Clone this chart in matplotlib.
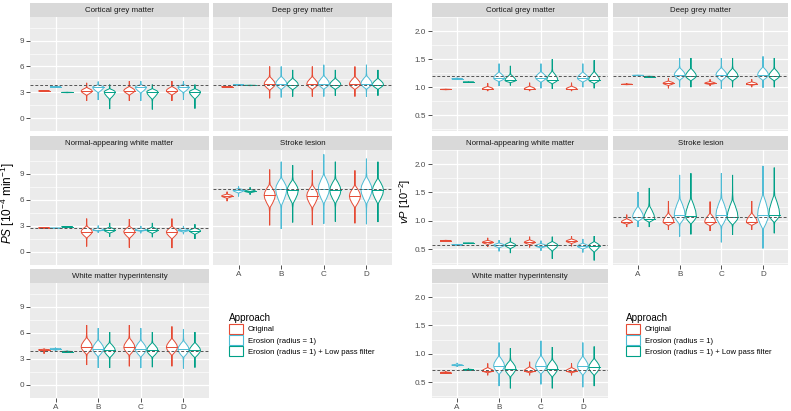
import matplotlib
matplotlib.use('Agg')
import matplotlib.pyplot as plt
import numpy as np
from matplotlib.patches import Patch

plt.rcParams['font.family'] = ['Liberation Sans', 'DejaVu Sans']
plt.rcParams['mathtext.fontset'] = 'custom'
plt.rcParams['mathtext.rm'] = 'Liberation Sans'
plt.rcParams['mathtext.it'] = 'Liberation Sans:italic'

groups = ['A', 'B', 'C', 'D']
approaches = ['Original', 'Erosion (radius = 1)', 'Erosion (radius = 1) + Low pass filter']
colors = ['#E64B35', '#4DBBD5', '#00A087']
facets = ['Cortical grey matter', 'Deep grey matter', 'Normal-appearing white matter',
          'Stroke lesion', 'White matter hyperintensity']

# each violin is (min, median, max); rows = approaches, columns = groups A-D
ps_cgm = [[(3.1, 3.15, 3.22), (2.0, 3.15, 4.1), (2.0, 3.2, 4.3), (2.0, 3.2, 4.3)],
          [(3.55, 3.62, 3.68), (2.1, 3.6, 4.25), (2.0, 3.6, 4.3), (2.1, 3.6, 4.3)],
          [(2.93, 2.98, 3.03), (1.05, 3.05, 3.9), (1.0, 3.05, 3.9), (1.1, 3.05, 3.9)]]
ps_dgm = [[(3.58, 3.63, 3.7), (2.3, 3.95, 6.0), (2.5, 3.95, 6.0), (2.5, 3.95, 6.0)],
          [(3.8, 3.85, 3.9), (2.4, 4.0, 6.0), (2.5, 4.0, 6.2), (2.5, 4.0, 6.2)],
          [(3.75, 3.8, 3.85), (2.5, 3.9, 5.6), (2.6, 3.9, 5.6), (2.6, 3.9, 5.6)]]
ps_nawm = [[(2.72, 2.78, 2.84), (0.63, 2.35, 3.85), (0.5, 2.35, 3.8), (0.45, 2.3, 3.85)],
           [(2.7, 2.74, 2.78), (2.2, 2.55, 3.05), (2.15, 2.55, 3.0), (2.05, 2.5, 3.0)],
           [(2.85, 2.9, 2.95), (1.75, 2.5, 3.35), (1.7, 2.5, 3.35), (1.5, 2.45, 3.2)]]
ps_sl = [[(5.85, 6.45, 6.95), (3.07, 6.55, 9.5), (3.1, 6.5, 9.4), (3.3, 6.45, 9.4)],
         [(6.4, 7.1, 7.6), (2.65, 7.25, 10.4), (3.25, 7.25, 11.25), (3.2, 7.2, 10.75)],
         [(6.6, 7.0, 7.45), (3.4, 7.1, 10.0), (3.5, 7.1, 10.4), (3.45, 7.1, 10.4)]]
ps_wmh = [[(3.6, 4.05, 4.2), (2.3, 4.4, 6.9), (2.15, 4.35, 6.9), (2.15, 4.35, 6.75)],
          [(3.85, 4.15, 4.3), (1.97, 4.2, 6.55), (1.95, 4.15, 6.55), (1.9, 4.1, 6.45)],
          [(3.7, 3.85, 3.95), (1.97, 4.0, 6.1), (2.05, 4.0, 6.1), (2.0, 4.0, 6.1)]]

vp_cgm = [[(0.95, 0.96, 0.97), (0.93, 0.97, 1.07), (0.93, 0.97, 1.08), (0.93, 0.97, 1.08)],
          [(1.13, 1.15, 1.17), (1.02, 1.16, 1.42), (0.98, 1.17, 1.42), (1.0, 1.16, 1.42)],
          [(1.08, 1.09, 1.1), (1.03, 1.12, 1.38), (0.97, 1.13, 1.5), (0.98, 1.13, 1.48)]]
vp_dgm = [[(1.04, 1.05, 1.07), (0.98, 1.07, 1.16), (1.02, 1.07, 1.14), (1.0, 1.06, 1.14)],
          [(1.2, 1.21, 1.22), (1.0, 1.22, 1.52), (0.97, 1.22, 1.52), (0.99, 1.22, 1.55)],
          [(1.18, 1.19, 1.2), (1.0, 1.2, 1.52), (1.0, 1.2, 1.52), (1.0, 1.2, 1.52)]]
vp_nawm = [[(0.64, 0.65, 0.66), (0.54, 0.62, 0.7), (0.53, 0.62, 0.72), (0.55, 0.64, 0.73)],
           [(0.575, 0.58, 0.585), (0.46, 0.57, 0.66), (0.47, 0.56, 0.65), (0.44, 0.55, 0.68)],
           [(0.6, 0.605, 0.61), (0.43, 0.57, 0.7), (0.33, 0.57, 0.72), (0.3, 0.56, 0.73)]]
vp_sl = [[(0.89, 0.98, 1.11), (0.84, 0.98, 1.35), (0.82, 0.98, 1.34), (0.84, 0.98, 1.35)],
         [(0.89, 1.07, 1.51), (0.72, 1.1, 1.81), (0.62, 1.1, 1.84), (0.51, 1.1, 1.97)],
         [(0.89, 1.04, 1.58), (0.76, 1.08, 1.84), (0.75, 1.06, 1.81), (0.78, 1.11, 1.94)]]
vp_wmh = [[(0.65, 0.67, 0.69), (0.62, 0.7, 0.83), (0.62, 0.7, 0.86), (0.62, 0.7, 0.83)],
          [(0.77, 0.8, 0.84), (0.43, 0.79, 1.2), (0.46, 0.78, 1.23), (0.41, 0.78, 1.2)],
          [(0.71, 0.72, 0.74), (0.39, 0.74, 1.1), (0.39, 0.74, 1.12), (0.43, 0.76, 1.13)]]

# dashed reference line per facet
ps_ref = [3.85, 3.85, 2.8, 7.3, 3.95]
vp_ref = [1.2, 1.2, 0.58, 1.06, 0.72]

ps_ticks = [0, 3, 6, 9]
vp_ticks = [0.5, 1.0, 1.5, 2.0]

W, H = 791, 411
fig = plt.figure(figsize=(W / 100, H / 100), dpi=100)


def box(x0, y0, x1, y1):
    return [x0 / W, 1 - y1 / H, (x1 - x0) / W, (y1 - y0) / H]


# violin outline: fraction of the way from median to extreme vs relative half width
prof_f = np.array([1.0, 0.55, 0.4, 0.27, 0.12, 0.0])
prof_w = np.array([0.0, 0.03, 0.1, 0.5, 0.88, 1.0])


def violin(ax, x, lo, med, hi, color, hw=0.13):
    ys = np.concatenate([med - prof_f * (med - lo), (med + prof_f[::-1] * (hi - med))[1:]])
    ws = np.concatenate([prof_w, prof_w[::-1][1:]]) * hw
    ax.fill(np.concatenate([x - ws, (x + ws)[::-1]]), np.concatenate([ys, ys[::-1]]),
            facecolor='white', edgecolor=color, lw=0.7, zorder=3)
    ax.plot([x - hw, x + hw], [med, med], color=color, lw=0.7, zorder=4)


rows = [(3, 17, 131), (136, 150, 265), (269, 283, 398)]
slots = [(0, 0), (0, 1), (1, 0), (1, 1), (2, 0)]
offsets = [-0.27, 0.0, 0.27]


def draw_block(cols, data, refs, ticks, ylim, fmt):
    for i, name in enumerate(facets):
        r, c = slots[i]
        st, pt, pb = rows[r]
        x0, x1 = cols[c]
        sax = fig.add_axes(box(x0, st, x1, pt))
        sax.set_facecolor('#D9D9D9')
        sax.set_xticks([]); sax.set_yticks([])
        for s in sax.spines.values():
            s.set_visible(False)
        sax.text(0.5, 0.5, name, ha='center', va='center', fontsize=5.7, color='#1A1A1A',
                 transform=sax.transAxes)

        ax = fig.add_axes(box(x0, pt, x1, pb))
        ax.set_facecolor('#EBEBEB')
        for s in ax.spines.values():
            s.set_visible(False)
        ax.set_xlim(0.4, 4.6)
        ax.set_ylim(*ylim)
        ax.set_xticks(range(1, 5))
        ax.set_xticklabels(groups)
        ax.set_yticks(ticks)
        ax.set_yticklabels([fmt.format(t) for t in ticks])
        step = ticks[1] - ticks[0]
        ax.set_yticks([t - step / 2 for t in ticks] + [ticks[-1] + step / 2], minor=True)
        ax.grid(True, which='major', color='white', lw=0.9)
        ax.grid(True, which='minor', axis='y', color='white', lw=0.45)
        ax.set_axisbelow(True)
        ax.tick_params(which='minor', length=0)
        ax.tick_params(which='major', length=3, width=0.6, color='#333333',
                       labelsize=5.9, labelcolor='#4D4D4D', pad=1.5)
        if c != 0:
            ax.tick_params(axis='y', left=False, labelleft=False)
        if i not in (3, 4):
            ax.tick_params(axis='x', bottom=False, labelbottom=False)

        for a in range(3):
            for g in range(4):
                lo, med, hi = data[i][a][g]
                violin(ax, g + 1 + offsets[a], lo, med, hi, colors[a])
        ax.axhline(refs[i], color='#555555', lw=0.7, ls=(0, (3, 2)), zorder=5)


draw_block([(30, 209), (213, 392)], [ps_cgm, ps_dgm, ps_nawm, ps_sl, ps_wmh], ps_ref,
           ps_ticks, (-0.28, 11.75), '{:g}')
draw_block([(432, 608), (613, 788)], [vp_cgm, vp_dgm, vp_nawm, vp_sl, vp_wmh], vp_ref,
           vp_ticks, (0.22, 2.03), '{:.1f}')

fig.text(8 / W, 1 - 203 / H, r'$\mathit{PS}$ [10$^{-4}$ min$^{-1}$]', rotation=90,
         ha='center', va='center', fontsize=8.5)
fig.text(405 / W, 1 - 201 / H, r'$\mathit{vP}$ [10$^{-2}$]', rotation=90,
         ha='center', va='center', fontsize=8.0)

handles = [Patch(facecolor='white', edgecolor=c, lw=0.8) for c in colors]
for lx in (229, 626):
    fig.legend(handles, approaches, title='Approach', loc='upper left',
               bbox_to_anchor=(lx / W, 1 - 313 / H), frameon=False, fontsize=5.6,
               title_fontsize=7.1, alignment='left', borderpad=0, borderaxespad=0,
               handlelength=1.8, handleheight=1.67, labelspacing=0.1, handletextpad=0.6)

fig.savefig('out.png', dpi=100)
